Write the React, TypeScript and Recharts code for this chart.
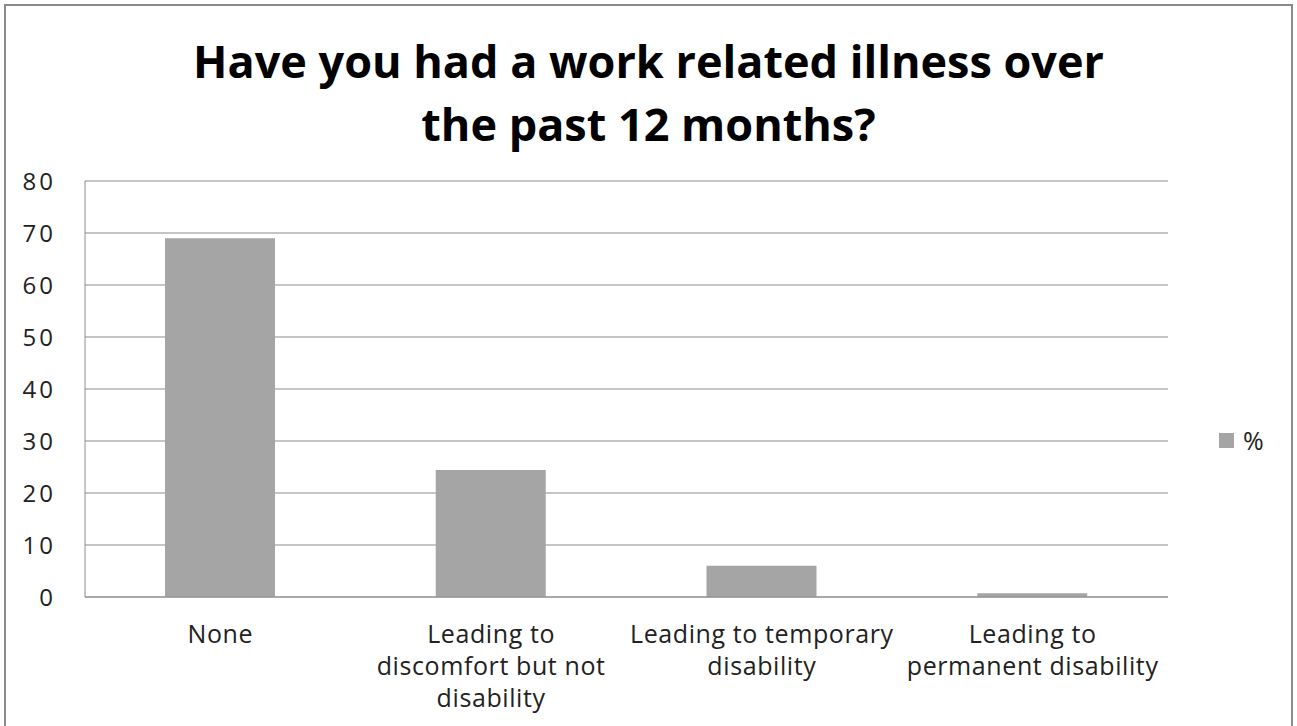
import { BarChart, Bar, XAxis, YAxis, CartesianGrid } from 'recharts';

const categories = ['None', 'Leading to\ndiscomfort but not\ndisability', 'Leading to temporary\ndisability', 'Leading to\npermanent disability'];
const percent = [69, 24.4, 6, 0.7];
const yTicks = [0, 10, 20, 30, 40, 50, 60, 70, 80];

const data = categories.map((name, i) => ({ name, pct: percent[i] }));

const FONT = '"Open Sans", Lato, sans-serif';

function CategoryTick(props: any) {
  const { x, y, payload } = props;
  const lines = String(payload.value).split('\n');
  return (
    <text x={x} y={y} textAnchor="middle" fill="#222" fontSize={25} letterSpacing={0.6} fontFamily={FONT}>
      {lines.map((l, i) => (
        <tspan key={i} x={x} dy={i === 0 ? 38 : 32}>{l}</tspan>
      ))}
    </text>
  );
}

export default function App() {
  return (
    <div style={{ position: 'absolute', left: 0, top: 0, width: 1297, height: 726, background: '#fff', overflow: 'hidden', fontFamily: FONT }}>
      {/* chart frame */}
      <div style={{ position: 'absolute', left: 4, top: 4, width: 1285, height: 740, border: '2px solid #8a8a8a' }} />
      <div style={{ position: 'absolute', left: 0, top: 29, width: 1297, textAlign: 'center', fontSize: 45, fontWeight: 700, lineHeight: '63px', color: '#000' }}>
        Have you had a work related illness over<br />the past 12 months?
      </div>
      <div style={{ position: 'absolute', left: 0, top: 0 }}>
        <BarChart width={1297} height={726} data={data} margin={{ top: 181, left: 25, right: 129, bottom: 9 }}>
          <CartesianGrid vertical={false} stroke="#8c8c8c" strokeWidth={1.2} />
          <XAxis dataKey="name" height={120} interval={0} tickLine={false} axisLine={{ stroke: '#8c8c8c' }} tick={<CategoryTick />} />
          <YAxis domain={[0, 80]} ticks={yTicks} width={60} tickLine={false} axisLine={{ stroke: '#8c8c8c' }}
            tick={{ fill: '#222', fontSize: 24, letterSpacing: 3, fontFamily: FONT }} tickMargin={23} />
          <Bar dataKey="pct" fill="#a5a5a5" barSize={110} isAnimationActive={false} />
        </BarChart>
      </div>
      <div style={{ position: 'absolute', left: 1219, top: 423, display: 'flex', alignItems: 'center', fontSize: 25, color: '#222' }}>
        <span style={{ display: 'inline-block', width: 15, height: 15, background: '#a5a5a5', marginRight: 9 }} />
        <span>%</span>
      </div>
    </div>
  );
}
